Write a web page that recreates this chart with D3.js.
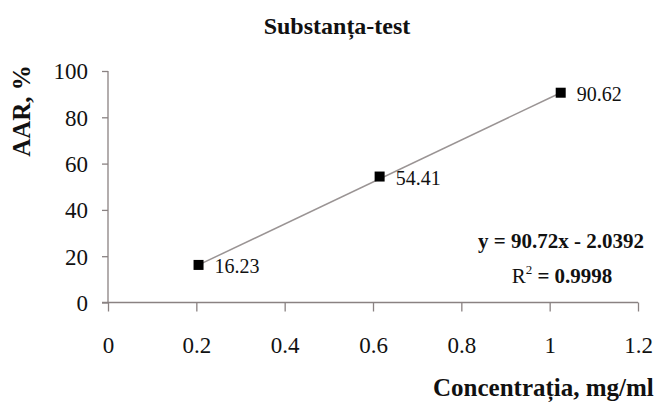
<!DOCTYPE html>
<html>
<head>
<meta charset="utf-8">
<script src="https://cdn.jsdelivr.net/npm/d3@7"></script>
<style>
  body { margin: 0; background: #fff; }
  svg { display: block; font-family: "Liberation Serif", "Times New Roman", serif; }
  .axis path, .axis line { stroke: #8a8282; stroke-width: 1.3; }
</style>
</head>
<body>
<div id="chart"></div>
<script>
// data
const concentrations = [0.205, 0.615, 1.025];
const aarValues = [16.23, 54.41, 90.62];
const xTicks = [0, 0.2, 0.4, 0.6, 0.8, 1, 1.2];
const yTicks = [0, 20, 40, 60, 80, 100];
const equationText = "y = 90.72x - 2.0392";
const r2Value = "0.9998";

const width = 665, height = 403;
const serif = '"Liberation Serif", "Times New Roman", serif';

const svg = d3.select('#chart')
    .append('svg')
    .attr('width', width)
    .attr('height', height);

const x = d3.scaleLinear().domain([0, 1.2]).range([108, 638]);
const y = d3.scaleLinear().domain([0, 100]).range([302.5, 71]);

function styleAxis(g) {
    g.attr('font-family', serif).attr('font-size', 23);
    g.selectAll('text').style('font-family', serif).style('font-size', '23px').attr('fill', '#111');
}

// axes
svg.append('g')
    .attr('class', 'axis')
    .attr('transform', `translate(0,${y(0)})`)
    .call(d3.axisBottom(x).tickValues(xTicks).tickSize(9)
        .tickFormat(d => String(d)))
    .call(styleAxis)
    .call(g => g.select('.domain').attr('d', `M${x(0) - 6},0H${x(1.2)}`))
    .call(g => g.selectAll('text').attr('y', 50).attr('dy', 0));

svg.append('g')
    .attr('class', 'axis')
    .attr('transform', `translate(${x(0)},0)`)
    .call(d3.axisLeft(y).tickValues(yTicks).tickSize(6).tickPadding(14))
    .call(styleAxis)
    .call(g => g.select('.domain').attr('d', `M0,${y(100)}V${y(0)}`))
    .call(g => g.selectAll('text').attr('dy', '0.34em'));

// trendline over the data range
const line = d3.line().x(d => x(d[0])).y(d => y(d[1]));
svg.append('path')
    .datum([[concentrations[0], aarValues[0]], [concentrations[2], aarValues[2]]])
    .attr('d', line)
    .attr('fill', 'none')
    .attr('stroke', '#9a9494')
    .attr('stroke-width', 1.5);

// markers
const pts = concentrations.map((c, i) => ({ c, v: aarValues[i] }));
svg.selectAll('rect.pt')
    .data(pts)
    .enter()
    .append('rect')
    .attr('class', 'pt')
    .attr('x', d => x(d.c) - 5)
    .attr('y', d => y(d.v) - 5)
    .attr('width', 10)
    .attr('height', 10)
    .attr('fill', '#000');

svg.selectAll('text.lbl')
    .data(pts)
    .enter()
    .append('text')
    .attr('class', 'lbl')
    .attr('x', d => x(d.c) + 16)
    .attr('y', d => y(d.v) + 8)
    .attr('font-size', 20)
    .attr('fill', '#111')
    .text(d => d.v.toFixed(2));

// title
svg.append('text')
    .attr('x', 337)
    .attr('y', 34)
    .attr('text-anchor', 'middle')
    .attr('font-size', 24)
    .attr('font-weight', 'bold')
    .attr('fill', '#111')
    .text('Substanța-test');

// axis titles
svg.append('text')
    .attr('transform', 'translate(30,111) rotate(-90)')
    .attr('text-anchor', 'middle')
    .attr('font-size', 25)
    .attr('font-weight', 'bold')
    .attr('fill', '#111')
    .text('AAR, %');

svg.append('text')
    .attr('x', 433)
    .attr('y', 396)
    .attr('font-size', 25)
    .attr('font-weight', 'bold')
    .attr('fill', '#111')
    .text('Concentrația, mg/ml');

// regression equation
svg.append('text')
    .attr('x', 561)
    .attr('y', 248)
    .attr('text-anchor', 'middle')
    .attr('font-size', 21)
    .attr('font-weight', 'bold')
    .attr('fill', '#111')
    .text(equationText);

const r2 = svg.append('text')
    .attr('x', 562)
    .attr('y', 283)
    .attr('text-anchor', 'middle')
    .attr('font-size', 21)
    .attr('fill', '#111');
r2.append('tspan').text('R');
r2.append('tspan').attr('font-size', 13).attr('dy', -9).text('2');
r2.append('tspan').attr('dy', 9).attr('font-weight', 'bold').text(' = ' + r2Value);
</script>
</body>
</html>
